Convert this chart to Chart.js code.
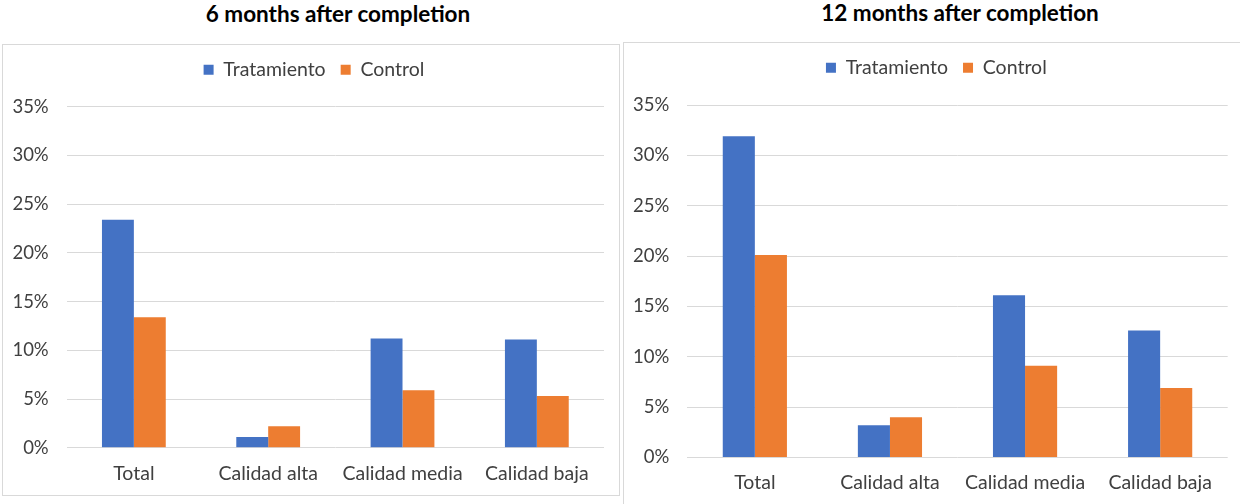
<!DOCTYPE html>
<html>
<head>
<meta charset="utf-8">
<script src="https://cdn.jsdelivr.net/npm/chart.js@4.4.1/dist/chart.umd.min.js"></script>
<style>
  html, body { margin: 0; padding: 0; background: #fff; width: 1240px; height: 504px; overflow: hidden; }
  .titulo { position: absolute; width: 420px; text-align: center; font-family: Lato, "Open Sans", sans-serif; font-weight: bold; font-size: 22.5px; line-height: 26px; color: #000; }
  .caja { position: absolute; border: 1px solid #d9d9d9; box-sizing: border-box; background: #fff; }
  .caja canvas { display: block; }
</style>
</head>
<body>
<div class="titulo" style="left:128px; top:1px;">6 months after completion</div>
<div class="titulo" style="left:750px; top:0px;">12 months after completion</div>

<div class="caja" style="left:2px; top:44px; width:618px; height:452px;">
  <canvas id="grafico6" width="616" height="450"></canvas>
</div>
<div class="caja" style="left:623px; top:42px; width:620px; height:466px;">
  <canvas id="grafico12" width="618" height="464"></canvas>
</div>

<script>
// Categorías y porcentajes (en %)
const categorias = ['Total', 'Calidad alta', 'Calidad media', 'Calidad baja'];
const series = ['Tratamiento', 'Control'];
const tratamiento6 = [23.4, 1.1, 11.2, 11.1];
const control6 = [13.4, 2.2, 5.9, 5.3];
const tratamiento12 = [31.9, 3.2, 16.1, 12.6];
const control12 = [20.1, 4.0, 9.1, 6.9];
const ejeMax = 35;
const ejePaso = 5;

const azul = '#4472C4';
const naranja = '#ED7D31';
const colorTexto = '#404040';
const colorGrilla = '#d9d9d9';
const fuente = 'Lato, "Open Sans", sans-serif';

// fija el alto de la leyenda (borde superior del área de dibujo) y la corre un poco a la derecha
const ajusteLeyenda = {
    id: 'ajusteLeyenda',
    beforeInit(chart, args, opts) {
        const fit = chart.legend.fit;
        chart.legend.fit = function () {
            fit.call(this);
            this.height = opts.alto;
        };
    },
    afterLayout(chart, args, opts) {
        chart.legend.left += opts.dx;
        chart.legend.right += opts.dx;
    }
};

function crearGrafico(id, tratamiento, control, medidas) {
    const ctx = document.getElementById(id).getContext('2d');
    return new Chart(ctx, {
        type: 'bar',
        data: {
            labels: categorias,
            datasets: [
                { label: series[0], data: tratamiento, backgroundColor: azul, borderWidth: 0 },
                { label: series[1], data: control, backgroundColor: naranja, borderWidth: 0 }
            ]
        },
        options: {
            responsive: false,
            animation: false,
            datasets: { bar: { categoryPercentage: 0.475, barPercentage: 1 } },
            layout: { padding: { top: 0, left: 0, right: medidas.derecha, bottom: 0 } },
            plugins: {
                tooltip: { enabled: false },
                ajusteLeyenda: { alto: medidas.arriba, dx: 10.5 },
                legend: {
                    position: 'top',
                    labels: {
                        boxWidth: 10,
                        boxHeight: 10,
                        padding: 15,
                        color: colorTexto,
                        font: { family: fuente, size: 19.5 }
                    }
                }
            },
            scales: {
                x: {
                    grid: { display: false, drawTicks: false },
                    border: { display: false },
                    ticks: { color: colorTexto, padding: 14, maxRotation: 0, font: { family: fuente, size: 19.5 } },
                    afterFit(scale) { scale.height = medidas.abajo; }
                },
                y: {
                    min: 0,
                    max: ejeMax,
                    grid: { color: colorGrilla, lineWidth: 1, drawTicks: false },
                    border: { display: false },
                    ticks: {
                        stepSize: ejePaso,
                        padding: 18,
                        color: colorTexto,
                        font: { family: fuente, size: 18.5 },
                        callback: v => v + '%'
                    },
                    afterFit(scale) { scale.width = medidas.izquierda; }
                }
            }
        },
        plugins: [ajusteLeyenda]
    });
}

crearGrafico('grafico6', tratamiento6, control6, { izquierda: 63.7, derecha: 15, arriba: 61.8, abajo: 47.3 });
crearGrafico('grafico12', tratamiento12, control12, { izquierda: 63.3, derecha: 14.3, arriba: 62, abajo: 49.5 });
</script>
</body>
</html>
